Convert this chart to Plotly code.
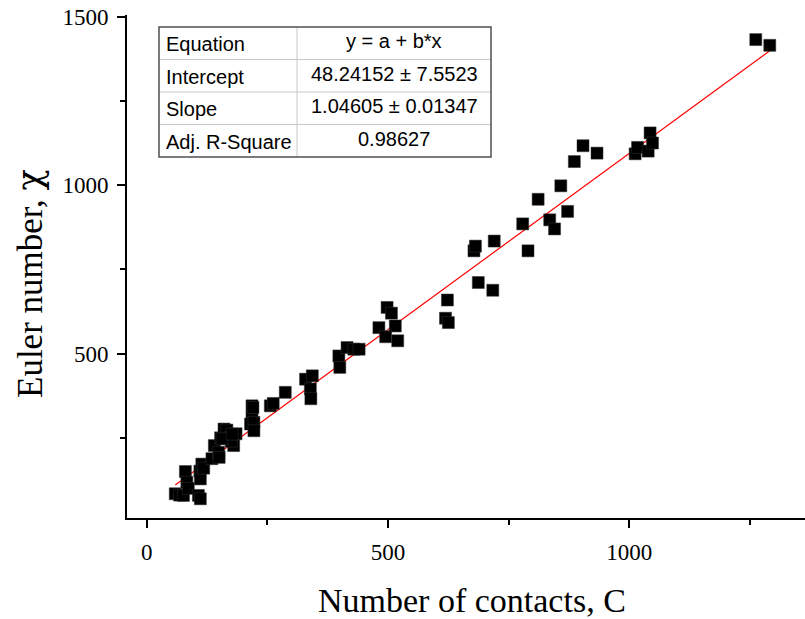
import plotly.graph_objects as go
import numpy as np

# Data
contacts = [59, 68, 76, 80, 83, 86, 107, 111, 110, 111, 114, 118, 135, 140, 149, 150, 153, 160,
            166, 173, 180, 175, 185, 156, 177, 218, 218, 215, 222, 222, 220, 256, 262, 287,
            329, 343, 339, 340, 398, 400, 415, 429, 440, 481, 498, 507, 515, 495, 520,
            623, 619, 625, 678, 681, 720, 687, 717, 779, 790, 811, 835, 845, 858, 872,
            886, 904, 933, 1012, 1017, 1039, 1043, 1048, 1262, 1291]
euler = [84, 80, 79, 150, 118, 100, 79, 69, 151, 128, 172, 160, 188, 227, 207, 192, 250, 276,
         273, 251, 227, 240, 262, 247, 261, 345, 311, 291, 296, 271, 340, 345, 352, 385,
         424, 434, 395, 366, 493, 459, 518, 513, 513, 577, 637, 620, 582, 550, 538,
         659, 605, 592, 805, 819, 834, 711, 688, 885, 805, 958, 897, 870, 998, 922,
         1070, 1117, 1095, 1093, 1112, 1101, 1155, 1125, 1432, 1415]

fit_intercept = 48.24152
fit_intercept_err = 7.5523
fit_slope = 1.04605
fit_slope_err = 0.01347
adj_r2 = 0.98627

table_labels = ["Equation", "Intercept", "Slope", "Adj. R-Square"]
table_values = ["y = a + b*x",
                f"{fit_intercept:.5f} \u00b1 {fit_intercept_err:.4f}",
                f"{fit_slope:.5f} \u00b1 {fit_slope_err:.5f}",
                f"{adj_r2:.5f}"]

W, H = 805, 619
L, R, T, B = 127, 0, 15, 101

fig = go.Figure()

fx = np.array([min(contacts), max(contacts)])
fig.add_trace(go.Scatter(x=fx, y=fit_intercept + fit_slope * fx, mode="lines",
                         line=dict(color="#ff0000", width=1.2), showlegend=False,
                         hoverinfo="skip"))
fig.add_trace(go.Scatter(x=contacts, y=euler, mode="markers",
                         marker=dict(symbol="square", size=12, color="black",
                                     line=dict(width=0.5, color="#333")),
                         showlegend=False))

serif = "Liberation Serif, Times New Roman, serif"
axis_common = dict(showline=True, linecolor="black", linewidth=2, mirror=False,
                   showgrid=False, zeroline=False, ticks="outside", ticklen=8,
                   tickwidth=1.5, tickcolor="black",
                   tickfont=dict(family=serif, size=23, color="black"))
fig.update_xaxes(range=[-41, 1364], tickvals=[0, 500, 1000],
                 minor=dict(tickvals=[250, 750, 1250], ticks="outside", ticklen=5,
                            tickwidth=1.5, tickcolor="black"),
                 ticklabelstandoff=4, **axis_common)
fig.update_yaxes(range=[12, 1505], tickvals=[500, 1000, 1500],
                 minor=dict(tickvals=[250, 750, 1250], ticks="outside", ticklen=5,
                            tickwidth=1.5, tickcolor="black"),
                 ticklabelstandoff=4, **axis_common)

# Axis titles
pw = W - L - R
ph = H - T - B
def px_to_paper_x(px):
    return (px - L) / pw
def px_to_paper_y(py):
    return (H - B - py) / ph

annotations = [
    dict(text="Number of contacts, C", x=px_to_paper_x(472), y=px_to_paper_y(600),
         xref="paper", yref="paper", showarrow=False,
         font=dict(family=serif, size=34, color="black"), xanchor="center", yanchor="middle"),
    dict(text="Euler number, <span style='font-family:DejaVu Serif'>\u03c7</span>",
         x=px_to_paper_x(30), y=px_to_paper_y(284),
         xref="paper", yref="paper", showarrow=False, textangle=-90,
         font=dict(family=serif, size=35, color="black"), xanchor="center", yanchor="middle"),
]

# Fit result table
tx0, tx1, tdiv = 159, 491, 297
ty0, ty1 = 27, 157
rows = len(table_labels)
rh = (ty1 - ty0) / rows
shapes = []
for i in range(1, rows):
    yy = ty0 + i * rh
    shapes.append(dict(type="line", xref="paper", yref="paper",
                       x0=px_to_paper_x(tx0), x1=px_to_paper_x(tx1),
                       y0=px_to_paper_y(yy), y1=px_to_paper_y(yy),
                       line=dict(color="#c8c8c8", width=1)))
shapes.append(dict(type="line", xref="paper", yref="paper",
                   x0=px_to_paper_x(tdiv), x1=px_to_paper_x(tdiv),
                   y0=px_to_paper_y(ty0), y1=px_to_paper_y(ty1),
                   line=dict(color="#c8c8c8", width=1)))
shapes.append(dict(type="rect", xref="paper", yref="paper",
                   x0=px_to_paper_x(tx0), x1=px_to_paper_x(tx1),
                   y0=px_to_paper_y(ty0), y1=px_to_paper_y(ty1),
                   line=dict(color="#505050", width=1.5), fillcolor="rgba(255,255,255,0)"))
sans = "Liberation Sans, Arial, sans-serif"
for i, (lab, val) in enumerate(zip(table_labels, table_values)):
    yc = ty0 + (i + 0.5) * rh
    annotations.append(dict(text=lab, x=px_to_paper_x(tx0 + 5), y=px_to_paper_y(yc + 1),
                            xref="paper", yref="paper", showarrow=False,
                            xanchor="left", yanchor="middle",
                            font=dict(family=sans, size=20, color="black")))
    annotations.append(dict(text=val, x=px_to_paper_x((tdiv + tx1) / 2), y=px_to_paper_y(yc - 2),
                            xref="paper", yref="paper", showarrow=False,
                            xanchor="center", yanchor="middle",
                            font=dict(family=sans, size=20, color="black")))

fig.update_layout(width=W, height=H, margin=dict(l=L, r=R, t=T, b=B),
                  paper_bgcolor="white", plot_bgcolor="white",
                  annotations=annotations, shapes=shapes)

fig.write_html("out.html")
